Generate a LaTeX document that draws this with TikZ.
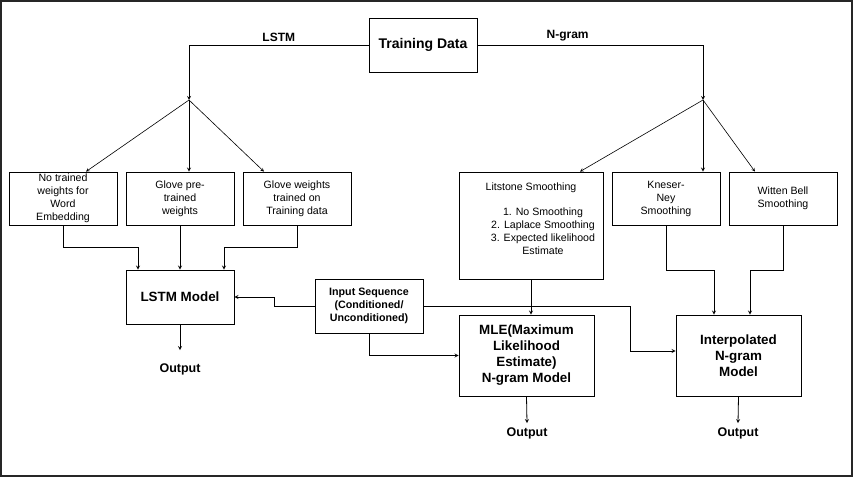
\documentclass[tikz,border=0pt]{standalone}
\usepackage{fontspec}
\setmainfont{Liberation Sans}
\usepackage{xcolor}
\usepackage{tikz}

\tikzset{
  box/.style={rectangle, draw, line width=0.8pt, minimum width=108pt, minimum height=53pt,
    align=center, inner sep=2pt, font=\fontsize{10.6}{13}\selectfont},
  boldbox/.style={box, font=\bfseries\fontsize{13.4}{16}\selectfont},
  link/.style={-stealth, line width=0.8pt},
  output/.style={font=\bfseries\fontsize{12.5}{15}\selectfont, inner sep=1pt},
  edgelabel/.style={font=\bfseries\fontsize{12}{14}\selectfont}
}

\begin{document}
\begin{tikzpicture}[x=1pt,y=-1pt]
\useasboundingbox (0,0) rectangle (856,478);
\draw[line width=1.2pt, black!85] (1,1) rectangle (852,476);

\node [boldbox, font=\bfseries\fontsize{14}{16}\selectfont, minimum height=54pt] (train) at (423,45) {Training Data};
\coordinate (lstmsplit) at (189,100);
\coordinate (ngramsplit) at (703,100);

% LSTM side
\node [box] (notrained) at (63,198.5) {No trained\\weights for\\Word\\Embedding};
\node [box] (glovepre) at (180,198.5) {Glove pre-\\trained\\weights};
\node [box] (glovetrain) at (297,198.5) {Glove weights\\trained on\\Training data};
\node [boldbox, minimum height=54pt] (lstm) at (180,297) {LSTM Model};
\node [output] (lstmout) at (180,369) {Output};
\node [boldbox, minimum height=54pt, font=\bfseries\fontsize{10.7}{13}\selectfont] (input) at (369,306)
{Input Sequence\\(Conditioned/\\Unconditioned)};

% N-gram side
\node [box, minimum width=144pt, minimum height=107pt] (litstone) at (531,225.5) {};
\node [font=\fontsize{10.6}{13}\selectfont] (littitle) at (531,188) {Litstone Smoothing};
\node [font=\fontsize{10.6}{13}\selectfont, align=center] (litlist) at (543,231.5)
{1. No Smoothing\\2. Laplace Smoothing\\3. Expected likelihood\\Estimate};
\node [box] (kneser) at (666,198.5) {Kneser-\\Ney\\Smoothing};
\node [box] (witten) at (783,198.5) {Witten Bell\\Smoothing};
\node [boldbox, minimum width=135pt, minimum height=81pt] (mle) at (526.5,355.5)
{MLE(Maximum\\Likelihood\\Estimate)\\N-gram Model};
\node [boldbox, minimum width=125pt, minimum height=81pt] (interp) at (738.5,355.5)
{Interpolated\\N-gram\\Model};
\node [output] (mleout) at (527,433) {Output};
\node [output] (interpout) at (738,433) {Output};
\coordinate (inbend) at (630,306);

% connectors
\draw [link] (train.west) -| node[edgelabel, pos=0.25, above] (lstmlabel) {LSTM} (lstmsplit);
\draw [link] (train.east) -| node[edgelabel, pos=0.2, above] (ngramlabel) {N-gram} (ngramsplit);
\draw [-stealth, line width=0.6pt] (lstmsplit) -- ([xshift=23pt]notrained.north);
\draw [link] (lstmsplit) -- (lstmsplit |- glovepre.north);
\draw [-stealth, line width=0.6pt] (lstmsplit) -- ([xshift=-33pt]glovetrain.north);
\draw [-stealth, line width=0.6pt] (ngramsplit) -- ([xshift=49pt]litstone.north);
\draw [link] (ngramsplit) -- (ngramsplit |- kneser.north);
\draw [-stealth, line width=0.6pt] (ngramsplit) -- ([xshift=-28pt]witten.north);

\draw [link] (notrained.south) -- ++(0,22) -| ([xshift=-42pt]lstm.north);
\draw [link] (glovepre.south) -- (lstm.north);
\draw [link] (glovetrain.south) -- ++(0,22) -| ([xshift=44pt]lstm.north);
\draw [link] (lstm.south) -- ([yshift=12pt]lstmout.north);

\draw [link] (input.west) -- ++(-40,0) |- (lstm.east);
\draw [link] (input.south) |- (mle.west);
\draw [link] (input.east) -- (inbend) |- ([yshift=4.5pt]interp.west);
\draw [link] (litstone.south) -- (litstone.south |- mle.north);

\draw [link] (kneser.south) -- ++(0,45) -| ([xshift=-24.5pt]interp.north);
\draw [link] (witten.south) -- ++(0,45) -| ([xshift=11.5pt]interp.north);
\draw [link] (mle.south) -- ([yshift=3pt]mleout.north);
\draw [link] (interp.south) -- ([yshift=3pt]interpout.north);
\end{tikzpicture}
\end{document}
